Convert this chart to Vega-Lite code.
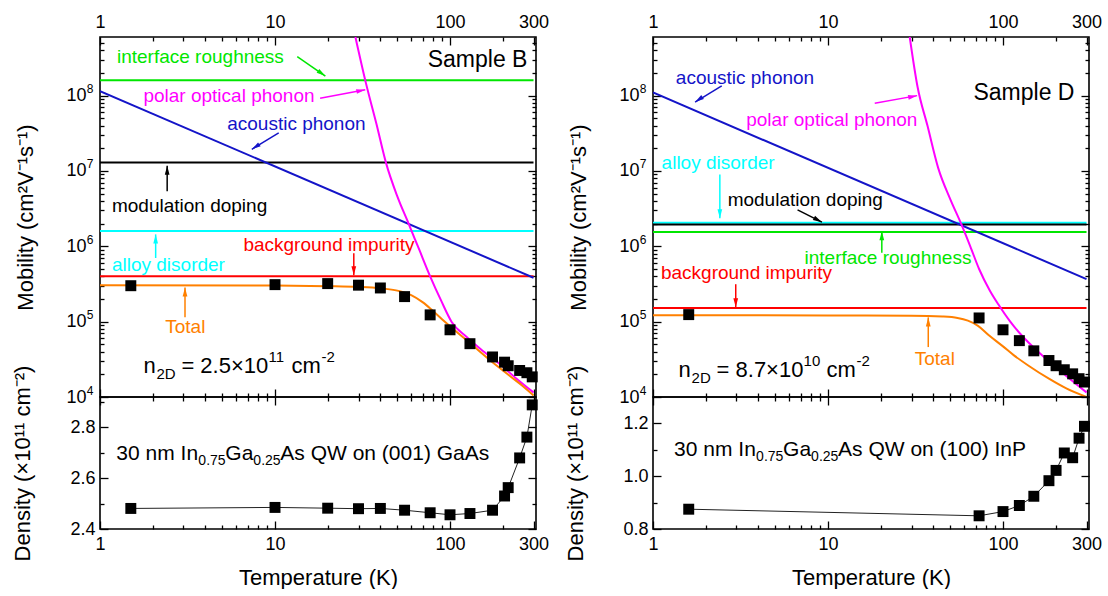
{
  "$schema": "https://vega.github.io/schema/vega-lite/v6.json",
  "background": "white",
  "padding": {"left": 11, "top": 8, "right": 0, "bottom": 0},
  "config": {
    "view": {"stroke": "black", "strokeWidth": 1.6},
    "axis": {"domain": false, "grid": false, "tickColor": "black", "tickWidth": 1.3, "labelFont": "Liberation Sans", "labelFontSize": 18, "labelColor": "black", "labelOverlap": false, "labelFlush": false, "titleFont": "Liberation Sans", "titleFontSize": 22, "titleFontWeight": "normal", "titleColor": "black"},
    "text": {"font": "Liberation Sans", "color": "black"}
  },
  "datasets": {
    "B_lines": [
      {"mech": "interface roughness", "T": 1, "mu": 1.6e8}, {"mech": "interface roughness", "T": 300, "mu": 1.6e8},
      {"mech": "modulation doping", "T": 1, "mu": 1.3e7}, {"mech": "modulation doping", "T": 300, "mu": 1.3e7},
      {"mech": "alloy disorder", "T": 1, "mu": 1.6e6}, {"mech": "alloy disorder", "T": 300, "mu": 1.6e6},
      {"mech": "background impurity", "T": 1, "mu": 4.0e5}, {"mech": "background impurity", "T": 300, "mu": 4.0e5},
      {"mech": "acoustic phonon", "T": 1, "mu": 1.15e8}, {"mech": "acoustic phonon", "T": 300, "mu": 3.83e5},
      {"mech": "polar optical phonon", "T": 28.8, "mu": 6.0e8}, {"mech": "polar optical phonon", "T": 33, "mu": 1.5e8},
      {"mech": "polar optical phonon", "T": 38, "mu": 4.2e7}, {"mech": "polar optical phonon", "T": 43, "mu": 1.3e7},
      {"mech": "polar optical phonon", "T": 50, "mu": 4.6e6}, {"mech": "polar optical phonon", "T": 58, "mu": 2.0e6},
      {"mech": "polar optical phonon", "T": 67, "mu": 8.8e5}, {"mech": "polar optical phonon", "T": 77, "mu": 4.0e5},
      {"mech": "polar optical phonon", "T": 89, "mu": 1.9e5}, {"mech": "polar optical phonon", "T": 102, "mu": 1.0e5},
      {"mech": "polar optical phonon", "T": 125, "mu": 6.2e4}, {"mech": "polar optical phonon", "T": 150, "mu": 4.3e4},
      {"mech": "polar optical phonon", "T": 190, "mu": 2.8e4}, {"mech": "polar optical phonon", "T": 240, "mu": 1.75e4},
      {"mech": "polar optical phonon", "T": 300, "mu": 1.15e4},
      {"mech": "Total", "T": 1, "mu": 3.05e5}, {"mech": "Total", "T": 10, "mu": 3.02e5}, {"mech": "Total", "T": 20, "mu": 2.96e5},
      {"mech": "Total", "T": 30, "mu": 2.89e5}, {"mech": "Total", "T": 40, "mu": 2.77e5}, {"mech": "Total", "T": 50, "mu": 2.58e5},
      {"mech": "Total", "T": 60, "mu": 2.25e5}, {"mech": "Total", "T": 70, "mu": 1.8e5}, {"mech": "Total", "T": 80, "mu": 1.38e5},
      {"mech": "Total", "T": 90, "mu": 1.08e5}, {"mech": "Total", "T": 100, "mu": 8.7e4}, {"mech": "Total", "T": 130, "mu": 5.2e4},
      {"mech": "Total", "T": 170, "mu": 3.05e4}, {"mech": "Total", "T": 220, "mu": 1.9e4}, {"mech": "Total", "T": 260, "mu": 1.4e4},
      {"mech": "Total", "T": 300, "mu": 1.05e4}
    ],
    "B_pts": [
      {"T": 1.5, "mu": 3.0e5, "dens": 2.481}, {"T": 10, "mu": 3.1e5, "dens": 2.485}, {"T": 20, "mu": 3.2e5, "dens": 2.482},
      {"T": 30, "mu": 3.05e5, "dens": 2.48}, {"T": 40, "mu": 2.8e5, "dens": 2.481}, {"T": 55, "mu": 2.15e5, "dens": 2.474},
      {"T": 77, "mu": 1.23e5, "dens": 2.464}, {"T": 100, "mu": 7.8e4, "dens": 2.456}, {"T": 130, "mu": 5.1e4, "dens": 2.461},
      {"T": 175, "mu": 3.4e4, "dens": 2.474}, {"T": 205, "mu": 2.9e4, "dens": 2.53}, {"T": 215, "mu": 2.6e4, "dens": 2.563},
      {"T": 250, "mu": 2.25e4, "dens": 2.68}, {"T": 275, "mu": 2.1e4, "dens": 2.762}, {"T": 295, "mu": 1.85e4, "dens": 2.889}
    ],
    "B_notes": [
      {"text": "interface roughness", "mech": "interface roughness", "T": 1.25, "mu": 3.3e8},
      {"text": "polar optical phonon", "mech": "polar optical phonon", "T": 1.77, "mu": 1.0e8},
      {"text": "acoustic phonon", "mech": "acoustic phonon", "T": 5.33, "mu": 4.2e7},
      {"text": "modulation doping", "mech": "modulation doping", "T": 1.17, "mu": 3.4e6},
      {"text": "alloy disorder", "mech": "alloy disorder", "T": 1.17, "mu": 5.6e5},
      {"text": "background impurity", "mech": "background impurity", "T": 6.6, "mu": 1.05e6},
      {"text": "Total", "mech": "Total", "T": 2.36, "mu": 8.4e4}
    ],
    "B_arrows": [
      {"mech": "interface roughness", "T": 13.4, "mu": 3.3e8, "T2": 19.4, "mu2": 1.82e8, "angle": 125},
      {"mech": "polar optical phonon", "T": 18.1, "mu": 9.2e7, "T2": 32.8, "mu2": 1.2e8, "angle": 78},
      {"mech": "acoustic phonon", "T": 10.5, "mu": 3.2e7, "T2": 7.37, "mu2": 1.94e7, "angle": 237},
      {"mech": "modulation doping", "T": 2.42, "mu": 5.4e6, "T2": 2.42, "mu2": 1.17e7, "angle": 0},
      {"mech": "alloy disorder", "T": 2.08, "mu": 7.0e5, "T2": 2.08, "mu2": 1.44e6, "angle": 0},
      {"mech": "background impurity", "T": 28.2, "mu": 8.1e5, "T2": 28.2, "mu2": 4.14e5, "angle": 180},
      {"mech": "Total", "T": 3.06, "mu": 1.14e5, "T2": 3.06, "mu2": 2.84e5, "angle": 0}
    ],
    "B_label": [{"text": "Sample B", "T": 277, "mu": 3.0e8}],
    "B_n2d": [{"T": 1.77, "mu": 2.6e4, "n": "n", "sub": "2D", "main": "= 2.5×10", "exp": "11", "unit": "cm", "uexp": "-2"}],
    "B_well": [{"T": 1.24, "dens": 2.696, "a": "30 nm In", "b": "0.75", "c": "Ga", "d": "0.25", "e": "As QW on (001) GaAs"}],
    "D_lines": [
      {"mech": "interface roughness", "T": 1, "mu": 1.55e6}, {"mech": "interface roughness", "T": 300, "mu": 1.55e6},
      {"mech": "alloy disorder", "T": 1, "mu": 2.05e6}, {"mech": "alloy disorder", "T": 300, "mu": 2.05e6},
      {"mech": "modulation doping", "T": 1, "mu": 1.95e6}, {"mech": "modulation doping", "T": 300, "mu": 1.95e6},
      {"mech": "background impurity", "T": 1, "mu": 1.52e5}, {"mech": "background impurity", "T": 300, "mu": 1.52e5},
      {"mech": "acoustic phonon", "T": 1, "mu": 1.1e8}, {"mech": "acoustic phonon", "T": 300, "mu": 3.67e5},
      {"mech": "polar optical phonon", "T": 29.3, "mu": 6.0e8}, {"mech": "polar optical phonon", "T": 32.5, "mu": 1.3e8},
      {"mech": "polar optical phonon", "T": 37, "mu": 4.0e7}, {"mech": "polar optical phonon", "T": 42.6, "mu": 1.1e7},
      {"mech": "polar optical phonon", "T": 50, "mu": 4.2e6}, {"mech": "polar optical phonon", "T": 57.6, "mu": 2.0e6},
      {"mech": "polar optical phonon", "T": 65, "mu": 1.0e6}, {"mech": "polar optical phonon", "T": 73, "mu": 5.0e5},
      {"mech": "polar optical phonon", "T": 84, "mu": 2.6e5}, {"mech": "polar optical phonon", "T": 94, "mu": 1.7e5},
      {"mech": "polar optical phonon", "T": 110, "mu": 1.0e5}, {"mech": "polar optical phonon", "T": 130, "mu": 6.3e4},
      {"mech": "polar optical phonon", "T": 155, "mu": 4.2e4}, {"mech": "polar optical phonon", "T": 185, "mu": 2.9e4},
      {"mech": "polar optical phonon", "T": 230, "mu": 1.9e4}, {"mech": "polar optical phonon", "T": 300, "mu": 1.15e4},
      {"mech": "Total", "T": 1, "mu": 1.22e5}, {"mech": "Total", "T": 10, "mu": 1.21e5}, {"mech": "Total", "T": 30, "mu": 1.2e5},
      {"mech": "Total", "T": 45, "mu": 1.17e5}, {"mech": "Total", "T": 55, "mu": 1.12e5}, {"mech": "Total", "T": 63, "mu": 1.03e5},
      {"mech": "Total", "T": 72, "mu": 8.8e4}, {"mech": "Total", "T": 83, "mu": 6.6e4}, {"mech": "Total", "T": 100, "mu": 4.7e4},
      {"mech": "Total", "T": 115, "mu": 3.6e4}, {"mech": "Total", "T": 140, "mu": 2.6e4}, {"mech": "Total", "T": 183, "mu": 1.75e4},
      {"mech": "Total", "T": 230, "mu": 1.3e4}, {"mech": "Total", "T": 300, "mu": 1.0e4}
    ],
    "D_pts": [
      {"T": 1.6, "mu": 1.24e5, "dens": 0.875}, {"T": 73, "mu": 1.12e5, "dens": 0.85}, {"T": 100, "mu": 7.8e4, "dens": 0.866},
      {"T": 124, "mu": 5.6e4, "dens": 0.889}, {"T": 150, "mu": 4.1e4, "dens": 0.924}, {"T": 183, "mu": 3.05e4, "dens": 0.983},
      {"T": 201, "mu": 2.6e4, "dens": 1.022}, {"T": 224, "mu": 2.3e4, "dens": 1.088}, {"T": 250, "mu": 2.03e4, "dens": 1.07},
      {"T": 272, "mu": 1.75e4, "dens": 1.144}, {"T": 292, "mu": 1.58e4, "dens": 1.189}
    ],
    "D_notes": [
      {"text": "acoustic phonon", "mech": "acoustic phonon", "T": 1.35, "mu": 1.74e8},
      {"text": "polar optical phonon", "mech": "polar optical phonon", "T": 3.41, "mu": 4.8e7},
      {"text": "alloy disorder", "mech": "alloy disorder", "T": 1.12, "mu": 1.29e7},
      {"text": "modulation doping", "mech": "modulation doping", "T": 2.67, "mu": 4.1e6},
      {"text": "interface roughness", "mech": "interface roughness", "T": 7.34, "mu": 7.0e5},
      {"text": "background impurity", "mech": "background impurity", "T": 1.11, "mu": 4.4e5},
      {"text": "Total", "mech": "Total", "T": 31.3, "mu": 3.2e4}
    ],
    "D_arrows": [
      {"mech": "acoustic phonon", "T": 2.47, "mu": 1.35e8, "T2": 1.74, "mu2": 8.2e7, "angle": 236},
      {"mech": "polar optical phonon", "T": 18.5, "mu": 7.9e7, "T2": 32.3, "mu2": 1.0e8, "angle": 79},
      {"mech": "alloy disorder", "T": 2.41, "mu": 9.0e6, "T2": 2.41, "mu2": 2.36e6, "angle": 180},
      {"mech": "modulation doping", "T": 6.7, "mu": 3.04e6, "T2": 9.23, "mu2": 2.09e6, "angle": 118},
      {"mech": "interface roughness", "T": 20.3, "mu": 8.2e5, "T2": 20.3, "mu2": 1.58e6, "angle": 0},
      {"mech": "background impurity", "T": 2.97, "mu": 3.14e5, "T2": 2.97, "mu2": 1.55e5, "angle": 180},
      {"mech": "Total", "T": 37.4, "mu": 4.6e4, "T2": 37.4, "mu2": 1.14e5, "angle": 0}
    ],
    "D_label": [{"text": "Sample D", "T": 256, "mu": 1.07e8}],
    "D_n2d": [{"T": 1.4, "mu": 2.25e4, "n": "n", "sub": "2D", "main": "= 8.7×10", "exp": "10", "unit": "cm", "uexp": "-2"}],
    "D_well": [{"T": 1.32, "dens": 1.098, "a": "30 nm In", "b": "0.75", "c": "Ga", "d": "0.25", "e": "As QW on (100) InP"}]
  },
  "spacing": 14,
  "hconcat": [
    {
      "spacing": 0,
      "bounds": "flush",
      "vconcat": [
        {
          "width": 436, "height": 360,
          "resolve": {"axis": {"x": "independent", "y": "independent"}},
          "layer": [
            {
              "data": {"name": "B_lines"},
              "mark": {"type": "line", "strokeWidth": 2, "clip": true, "interpolate": "monotone"},
              "encoding": {
                "x": {"field": "T", "type": "quantitative", "scale": {"type": "log", "domain": [1, 310], "nice": false},
                      "axis": {"orient": "top", "title": null, "values": [1,2,3,4,5,6,7,8,9,10,20,30,40,50,60,70,80,90,100,200,300],
                               "labelExpr": "indexof([1,10,100,300], datum.value) >= 0 ? format(datum.value, 'd') : ''",
                               "tickSize": {"condition": {"test": "indexof([1,10,100,300], datum.value) >= 0", "value": -8}, "value": -4},
                               "labelPadding": 14}},
                "y": {"field": "mu", "type": "quantitative", "scale": {"type": "log", "domain": [1e4, 6e8], "nice": false},
                      "axis": {"orient": "left", "title": "Mobility (cm²V⁻¹s⁻¹)", "titlePadding": 28,
                               "values": [1e4,2e4,3e4,4e4,5e4,6e4,7e4,8e4,9e4,1e5,2e5,3e5,4e5,5e5,6e5,7e5,8e5,9e5,1e6,2e6,3e6,4e6,5e6,6e6,7e6,8e6,9e6,1e7,2e7,3e7,4e7,5e7,6e7,7e7,8e7,9e7,1e8,2e8,3e8,4e8,5e8],
                               "labelExpr": "indexof([1e4,1e5,1e6,1e7,1e8], datum.value) >= 0 ? '10' : ''",
                               "tickSize": {"condition": {"test": "indexof([1e4,1e5,1e6,1e7,1e8], datum.value) >= 0", "value": -8}, "value": -4},
                               "labelPadding": 22}},
                "color": {"field": "mech", "type": "nominal", "legend": null,
                          "scale": {"domain": ["interface roughness", "polar optical phonon", "acoustic phonon", "modulation doping", "alloy disorder", "background impurity", "Total"],
                                    "range": ["#00e600", "#ff00ff", "#1414c8", "#000000", "#00ffff", "#ff0000", "#ff8000"]}}
              }
            },
            {
              "data": {"name": "B_pts"},
              "mark": {"type": "point", "shape": "square", "filled": true, "color": "black", "opacity": 1, "size": 120},
              "encoding": {
                "x": {"field": "T", "type": "quantitative",
                      "axis": {"orient": "bottom", "title": null, "labels": false, "values": [1,2,3,4,5,6,7,8,9,10,20,30,40,50,60,70,80,90,100,200,300],
                               "tickSize": {"condition": {"test": "indexof([1,10,100,300], datum.value) >= 0", "value": -8}, "value": -4}}},
                "y": {"field": "mu", "type": "quantitative",
                      "axis": {"orient": "right", "title": null, "labels": false,
                               "values": [1e4,2e4,3e4,4e4,5e4,6e4,7e4,8e4,9e4,1e5,2e5,3e5,4e5,5e5,6e5,7e5,8e5,9e5,1e6,2e6,3e6,4e6,5e6,6e6,7e6,8e6,9e6,1e7,2e7,3e7,4e7,5e7,6e7,7e7,8e7,9e7,1e8,2e8,3e8,4e8,5e8],
                               "tickSize": {"condition": {"test": "indexof([1e4,1e5,1e6,1e7,1e8], datum.value) >= 0", "value": -8}, "value": -4}}}
              }
            },
            {
              "data": {"name": "B_notes"},
              "mark": {"type": "text", "align": "left", "baseline": "middle", "fontSize": 19},
              "encoding": {
                "x": {"field": "T", "type": "quantitative", "axis": null},
                "y": {"field": "mu", "type": "quantitative",
                      "axis": {"orient": "left", "title": null, "values": [1e4, 1e5, 1e6, 1e7, 1e8],
                               "labelExpr": "datum.value == 1e4 ? '4' : datum.value == 1e5 ? '5' : datum.value == 1e6 ? '6' : datum.value == 1e7 ? '7' : '8'",
                               "labelFontSize": 12, "tickSize": -8, "tickOpacity": 0, "labelPadding": 15, "labelOffset": -7}},
                "text": {"field": "text"},
                "color": {"field": "mech", "type": "nominal", "legend": null}
              }
            },
            {
              "data": {"name": "B_arrows"},
              "mark": {"type": "rule", "strokeWidth": 1.5},
              "encoding": {
                "x": {"field": "T", "type": "quantitative", "axis": null},
                "y": {"field": "mu", "type": "quantitative", "axis": null},
                "x2": {"field": "T2"},
                "y2": {"field": "mu2"},
                "color": {"field": "mech", "type": "nominal", "legend": null}
              }
            },
            {
              "data": {"name": "B_arrows"},
              "mark": {"type": "point", "shape": "M0,0L0.5,1.9L-0.5,1.9Z", "filled": true, "opacity": 1, "size": 90},
              "encoding": {
                "x": {"field": "T2", "type": "quantitative", "axis": null},
                "y": {"field": "mu2", "type": "quantitative", "axis": null},
                "angle": {"field": "angle", "type": "quantitative", "scale": null},
                "color": {"field": "mech", "type": "nominal", "legend": null}
              }
            },
            {
              "data": {"name": "B_label"},
              "mark": {"type": "text", "align": "right", "baseline": "middle", "fontSize": 23},
              "encoding": {
                "x": {"field": "T", "type": "quantitative", "axis": null},
                "y": {"field": "mu", "type": "quantitative", "axis": null},
                "text": {"field": "text"}
              }
            },
            {
              "data": {"name": "B_n2d"},
              "mark": {"type": "text", "align": "left", "baseline": "middle", "fontSize": 22},
              "encoding": {"x": {"field": "T", "type": "quantitative", "axis": null}, "y": {"field": "mu", "type": "quantitative", "axis": null}, "text": {"field": "n"}}
            },
            {
              "data": {"name": "B_n2d"},
              "mark": {"type": "text", "align": "left", "baseline": "middle", "fontSize": 15, "dx": 13, "dy": 8},
              "encoding": {"x": {"field": "T", "type": "quantitative", "axis": null}, "y": {"field": "mu", "type": "quantitative", "axis": null}, "text": {"field": "sub"}}
            },
            {
              "data": {"name": "B_n2d"},
              "mark": {"type": "text", "align": "left", "baseline": "middle", "fontSize": 22, "dx": 38},
              "encoding": {"x": {"field": "T", "type": "quantitative", "axis": null}, "y": {"field": "mu", "type": "quantitative", "axis": null}, "text": {"field": "main"}}
            },
            {
              "data": {"name": "B_n2d"},
              "mark": {"type": "text", "align": "left", "baseline": "middle", "fontSize": 15, "dx": 125, "dy": -9},
              "encoding": {"x": {"field": "T", "type": "quantitative", "axis": null}, "y": {"field": "mu", "type": "quantitative", "axis": null}, "text": {"field": "exp"}}
            },
            {
              "data": {"name": "B_n2d"},
              "mark": {"type": "text", "align": "left", "baseline": "middle", "fontSize": 22, "dx": 148},
              "encoding": {"x": {"field": "T", "type": "quantitative", "axis": null}, "y": {"field": "mu", "type": "quantitative", "axis": null}, "text": {"field": "unit"}}
            },
            {
              "data": {"name": "B_n2d"},
              "mark": {"type": "text", "align": "left", "baseline": "middle", "fontSize": 15, "dx": 178, "dy": -9},
              "encoding": {"x": {"field": "T", "type": "quantitative", "axis": null}, "y": {"field": "mu", "type": "quantitative", "axis": null}, "text": {"field": "uexp"}}
            }
          ]
        },
        {
          "width": 436, "height": 132,
          "resolve": {"axis": {"x": "independent", "y": "independent"}},
          "layer": [
            {
              "data": {"name": "B_pts"},
              "mark": {"type": "line", "strokeWidth": 1, "color": "#222222"},
              "encoding": {
                "x": {"field": "T", "type": "quantitative", "scale": {"type": "log", "domain": [1, 310], "nice": false},
                      "axis": {"orient": "bottom", "title": "Temperature (K)", "titlePadding": 10, "values": [1,2,3,4,5,6,7,8,9,10,20,30,40,50,60,70,80,90,100,200,300],
                               "labelExpr": "indexof([1,10,100,300], datum.value) >= 0 ? format(datum.value, 'd') : ''",
                               "tickSize": {"condition": {"test": "indexof([1,10,100,300], datum.value) >= 0", "value": -8}, "value": -4},
                               "labelPadding": 14}},
                "y": {"field": "dens", "type": "quantitative", "scale": {"domain": [2.4, 2.92], "nice": false, "zero": false},
                      "axis": {"orient": "left", "title": "Density (×10¹¹ cm⁻²)", "titlePadding": 35, "values": [2.4, 2.5, 2.6, 2.7, 2.8, 2.9],
                               "labelExpr": "indexof([2.4, 2.6, 2.8], datum.value) >= 0 ? format(datum.value, '.1f') : ''",
                               "tickSize": {"condition": {"test": "indexof([2.4, 2.6, 2.8], datum.value) >= 0", "value": -8}, "value": -4},
                               "labelPadding": 13}}
              }
            },
            {
              "data": {"name": "B_pts"},
              "mark": {"type": "point", "shape": "square", "filled": true, "color": "black", "opacity": 1, "size": 120},
              "encoding": {
                "x": {"field": "T", "type": "quantitative",
                      "axis": {"orient": "top", "title": null, "labels": false, "values": [1,2,3,4,5,6,7,8,9,10,20,30,40,50,60,70,80,90,100,200,300],
                               "tickSize": {"condition": {"test": "indexof([1,10,100,300], datum.value) >= 0", "value": -8}, "value": -4}}},
                "y": {"field": "dens", "type": "quantitative",
                      "axis": {"orient": "right", "title": null, "labels": false, "values": [2.4, 2.5, 2.6, 2.7, 2.8, 2.9],
                               "tickSize": {"condition": {"test": "indexof([2.4, 2.6, 2.8], datum.value) >= 0", "value": -8}, "value": -4}}}
              }
            },
            {
              "data": {"name": "B_well"},
              "mark": {"type": "text", "align": "left", "baseline": "middle", "fontSize": 21},
              "encoding": {"x": {"field": "T", "type": "quantitative", "axis": null}, "y": {"field": "dens", "type": "quantitative", "axis": null}, "text": {"field": "a"}}
            },
            {
              "data": {"name": "B_well"},
              "mark": {"type": "text", "align": "left", "baseline": "middle", "fontSize": 14, "dx": 82, "dy": 7},
              "encoding": {"x": {"field": "T", "type": "quantitative", "axis": null}, "y": {"field": "dens", "type": "quantitative", "axis": null}, "text": {"field": "b"}}
            },
            {
              "data": {"name": "B_well"},
              "mark": {"type": "text", "align": "left", "baseline": "middle", "fontSize": 21, "dx": 109},
              "encoding": {"x": {"field": "T", "type": "quantitative", "axis": null}, "y": {"field": "dens", "type": "quantitative", "axis": null}, "text": {"field": "c"}}
            },
            {
              "data": {"name": "B_well"},
              "mark": {"type": "text", "align": "left", "baseline": "middle", "fontSize": 14, "dx": 137, "dy": 7},
              "encoding": {"x": {"field": "T", "type": "quantitative", "axis": null}, "y": {"field": "dens", "type": "quantitative", "axis": null}, "text": {"field": "d"}}
            },
            {
              "data": {"name": "B_well"},
              "mark": {"type": "text", "align": "left", "baseline": "middle", "fontSize": 21, "dx": 164},
              "encoding": {"x": {"field": "T", "type": "quantitative", "axis": null}, "y": {"field": "dens", "type": "quantitative", "axis": null}, "text": {"field": "e"}}
            }
          ]
        }
      ]
    },
    {
      "spacing": 0,
      "bounds": "flush",
      "vconcat": [
        {
          "width": 436, "height": 360,
          "resolve": {"axis": {"x": "independent", "y": "independent"}},
          "layer": [
            {
              "data": {"name": "D_lines"},
              "mark": {"type": "line", "strokeWidth": 2, "clip": true, "interpolate": "monotone"},
              "encoding": {
                "x": {"field": "T", "type": "quantitative", "scale": {"type": "log", "domain": [1, 310], "nice": false},
                      "axis": {"orient": "top", "title": null, "values": [1,2,3,4,5,6,7,8,9,10,20,30,40,50,60,70,80,90,100,200,300],
                               "labelExpr": "indexof([1,10,100,300], datum.value) >= 0 ? format(datum.value, 'd') : ''",
                               "tickSize": {"condition": {"test": "indexof([1,10,100,300], datum.value) >= 0", "value": -8}, "value": -4},
                               "labelPadding": 14}},
                "y": {"field": "mu", "type": "quantitative", "scale": {"type": "log", "domain": [1e4, 6e8], "nice": false},
                      "axis": {"orient": "left", "title": "Mobility (cm²V⁻¹s⁻¹)", "titlePadding": 28,
                               "values": [1e4,2e4,3e4,4e4,5e4,6e4,7e4,8e4,9e4,1e5,2e5,3e5,4e5,5e5,6e5,7e5,8e5,9e5,1e6,2e6,3e6,4e6,5e6,6e6,7e6,8e6,9e6,1e7,2e7,3e7,4e7,5e7,6e7,7e7,8e7,9e7,1e8,2e8,3e8,4e8,5e8],
                               "labelExpr": "indexof([1e4,1e5,1e6,1e7,1e8], datum.value) >= 0 ? '10' : ''",
                               "tickSize": {"condition": {"test": "indexof([1e4,1e5,1e6,1e7,1e8], datum.value) >= 0", "value": -8}, "value": -4},
                               "labelPadding": 22}},
                "color": {"field": "mech", "type": "nominal", "legend": null,
                          "scale": {"domain": ["interface roughness", "polar optical phonon", "acoustic phonon", "modulation doping", "alloy disorder", "background impurity", "Total"],
                                    "range": ["#00e600", "#ff00ff", "#1414c8", "#000000", "#00ffff", "#ff0000", "#ff8000"]}}
              }
            },
            {
              "data": {"name": "D_pts"},
              "mark": {"type": "point", "shape": "square", "filled": true, "color": "black", "opacity": 1, "size": 120},
              "encoding": {
                "x": {"field": "T", "type": "quantitative",
                      "axis": {"orient": "bottom", "title": null, "labels": false, "values": [1,2,3,4,5,6,7,8,9,10,20,30,40,50,60,70,80,90,100,200,300],
                               "tickSize": {"condition": {"test": "indexof([1,10,100,300], datum.value) >= 0", "value": -8}, "value": -4}}},
                "y": {"field": "mu", "type": "quantitative",
                      "axis": {"orient": "right", "title": null, "labels": false,
                               "values": [1e4,2e4,3e4,4e4,5e4,6e4,7e4,8e4,9e4,1e5,2e5,3e5,4e5,5e5,6e5,7e5,8e5,9e5,1e6,2e6,3e6,4e6,5e6,6e6,7e6,8e6,9e6,1e7,2e7,3e7,4e7,5e7,6e7,7e7,8e7,9e7,1e8,2e8,3e8,4e8,5e8],
                               "tickSize": {"condition": {"test": "indexof([1e4,1e5,1e6,1e7,1e8], datum.value) >= 0", "value": -8}, "value": -4}}}
              }
            },
            {
              "data": {"name": "D_notes"},
              "mark": {"type": "text", "align": "left", "baseline": "middle", "fontSize": 19},
              "encoding": {
                "x": {"field": "T", "type": "quantitative", "axis": null},
                "y": {"field": "mu", "type": "quantitative",
                      "axis": {"orient": "left", "title": null, "values": [1e4, 1e5, 1e6, 1e7, 1e8],
                               "labelExpr": "datum.value == 1e4 ? '4' : datum.value == 1e5 ? '5' : datum.value == 1e6 ? '6' : datum.value == 1e7 ? '7' : '8'",
                               "labelFontSize": 12, "tickSize": -8, "tickOpacity": 0, "labelPadding": 15, "labelOffset": -7}},
                "text": {"field": "text"},
                "color": {"field": "mech", "type": "nominal", "legend": null}
              }
            },
            {
              "data": {"name": "D_arrows"},
              "mark": {"type": "rule", "strokeWidth": 1.5},
              "encoding": {
                "x": {"field": "T", "type": "quantitative", "axis": null},
                "y": {"field": "mu", "type": "quantitative", "axis": null},
                "x2": {"field": "T2"},
                "y2": {"field": "mu2"},
                "color": {"field": "mech", "type": "nominal", "legend": null}
              }
            },
            {
              "data": {"name": "D_arrows"},
              "mark": {"type": "point", "shape": "M0,0L0.5,1.9L-0.5,1.9Z", "filled": true, "opacity": 1, "size": 90},
              "encoding": {
                "x": {"field": "T2", "type": "quantitative", "axis": null},
                "y": {"field": "mu2", "type": "quantitative", "axis": null},
                "angle": {"field": "angle", "type": "quantitative", "scale": null},
                "color": {"field": "mech", "type": "nominal", "legend": null}
              }
            },
            {
              "data": {"name": "D_label"},
              "mark": {"type": "text", "align": "right", "baseline": "middle", "fontSize": 23},
              "encoding": {
                "x": {"field": "T", "type": "quantitative", "axis": null},
                "y": {"field": "mu", "type": "quantitative", "axis": null},
                "text": {"field": "text"}
              }
            },
            {
              "data": {"name": "D_n2d"},
              "mark": {"type": "text", "align": "left", "baseline": "middle", "fontSize": 22},
              "encoding": {"x": {"field": "T", "type": "quantitative", "axis": null}, "y": {"field": "mu", "type": "quantitative", "axis": null}, "text": {"field": "n"}}
            },
            {
              "data": {"name": "D_n2d"},
              "mark": {"type": "text", "align": "left", "baseline": "middle", "fontSize": 15, "dx": 13, "dy": 8},
              "encoding": {"x": {"field": "T", "type": "quantitative", "axis": null}, "y": {"field": "mu", "type": "quantitative", "axis": null}, "text": {"field": "sub"}}
            },
            {
              "data": {"name": "D_n2d"},
              "mark": {"type": "text", "align": "left", "baseline": "middle", "fontSize": 22, "dx": 38},
              "encoding": {"x": {"field": "T", "type": "quantitative", "axis": null}, "y": {"field": "mu", "type": "quantitative", "axis": null}, "text": {"field": "main"}}
            },
            {
              "data": {"name": "D_n2d"},
              "mark": {"type": "text", "align": "left", "baseline": "middle", "fontSize": 15, "dx": 125, "dy": -9},
              "encoding": {"x": {"field": "T", "type": "quantitative", "axis": null}, "y": {"field": "mu", "type": "quantitative", "axis": null}, "text": {"field": "exp"}}
            },
            {
              "data": {"name": "D_n2d"},
              "mark": {"type": "text", "align": "left", "baseline": "middle", "fontSize": 22, "dx": 148},
              "encoding": {"x": {"field": "T", "type": "quantitative", "axis": null}, "y": {"field": "mu", "type": "quantitative", "axis": null}, "text": {"field": "unit"}}
            },
            {
              "data": {"name": "D_n2d"},
              "mark": {"type": "text", "align": "left", "baseline": "middle", "fontSize": 15, "dx": 178, "dy": -9},
              "encoding": {"x": {"field": "T", "type": "quantitative", "axis": null}, "y": {"field": "mu", "type": "quantitative", "axis": null}, "text": {"field": "uexp"}}
            }
          ]
        },
        {
          "width": 436, "height": 132,
          "resolve": {"axis": {"x": "independent", "y": "independent"}},
          "layer": [
            {
              "data": {"name": "D_pts"},
              "mark": {"type": "line", "strokeWidth": 1, "color": "#222222"},
              "encoding": {
                "x": {"field": "T", "type": "quantitative", "scale": {"type": "log", "domain": [1, 310], "nice": false},
                      "axis": {"orient": "bottom", "title": "Temperature (K)", "titlePadding": 10, "values": [1,2,3,4,5,6,7,8,9,10,20,30,40,50,60,70,80,90,100,200,300],
                               "labelExpr": "indexof([1,10,100,300], datum.value) >= 0 ? format(datum.value, 'd') : ''",
                               "tickSize": {"condition": {"test": "indexof([1,10,100,300], datum.value) >= 0", "value": -8}, "value": -4},
                               "labelPadding": 14}},
                "y": {"field": "dens", "type": "quantitative", "scale": {"domain": [0.8, 1.3], "nice": false, "zero": false},
                      "axis": {"orient": "left", "title": "Density (×10¹¹ cm⁻²)", "titlePadding": 35, "values": [0.8, 0.9, 1.0, 1.1, 1.2],
                               "labelExpr": "indexof([0.8, 1.0, 1.2], datum.value) >= 0 ? format(datum.value, '.1f') : ''",
                               "tickSize": {"condition": {"test": "indexof([0.8, 1.0, 1.2], datum.value) >= 0", "value": -8}, "value": -4},
                               "labelPadding": 13}}
              }
            },
            {
              "data": {"name": "D_pts"},
              "mark": {"type": "point", "shape": "square", "filled": true, "color": "black", "opacity": 1, "size": 120},
              "encoding": {
                "x": {"field": "T", "type": "quantitative",
                      "axis": {"orient": "top", "title": null, "labels": false, "values": [1,2,3,4,5,6,7,8,9,10,20,30,40,50,60,70,80,90,100,200,300],
                               "tickSize": {"condition": {"test": "indexof([1,10,100,300], datum.value) >= 0", "value": -8}, "value": -4}}},
                "y": {"field": "dens", "type": "quantitative",
                      "axis": {"orient": "right", "title": null, "labels": false, "values": [0.8, 0.9, 1.0, 1.1, 1.2],
                               "tickSize": {"condition": {"test": "indexof([0.8, 1.0, 1.2], datum.value) >= 0", "value": -8}, "value": -4}}}
              }
            },
            {
              "data": {"name": "D_well"},
              "mark": {"type": "text", "align": "left", "baseline": "middle", "fontSize": 21},
              "encoding": {"x": {"field": "T", "type": "quantitative", "axis": null}, "y": {"field": "dens", "type": "quantitative", "axis": null}, "text": {"field": "a"}}
            },
            {
              "data": {"name": "D_well"},
              "mark": {"type": "text", "align": "left", "baseline": "middle", "fontSize": 14, "dx": 82, "dy": 7},
              "encoding": {"x": {"field": "T", "type": "quantitative", "axis": null}, "y": {"field": "dens", "type": "quantitative", "axis": null}, "text": {"field": "b"}}
            },
            {
              "data": {"name": "D_well"},
              "mark": {"type": "text", "align": "left", "baseline": "middle", "fontSize": 21, "dx": 109},
              "encoding": {"x": {"field": "T", "type": "quantitative", "axis": null}, "y": {"field": "dens", "type": "quantitative", "axis": null}, "text": {"field": "c"}}
            },
            {
              "data": {"name": "D_well"},
              "mark": {"type": "text", "align": "left", "baseline": "middle", "fontSize": 14, "dx": 137, "dy": 7},
              "encoding": {"x": {"field": "T", "type": "quantitative", "axis": null}, "y": {"field": "dens", "type": "quantitative", "axis": null}, "text": {"field": "d"}}
            },
            {
              "data": {"name": "D_well"},
              "mark": {"type": "text", "align": "left", "baseline": "middle", "fontSize": 21, "dx": 164},
              "encoding": {"x": {"field": "T", "type": "quantitative", "axis": null}, "y": {"field": "dens", "type": "quantitative", "axis": null}, "text": {"field": "e"}}
            }
          ]
        }
      ]
    }
  ]
}
